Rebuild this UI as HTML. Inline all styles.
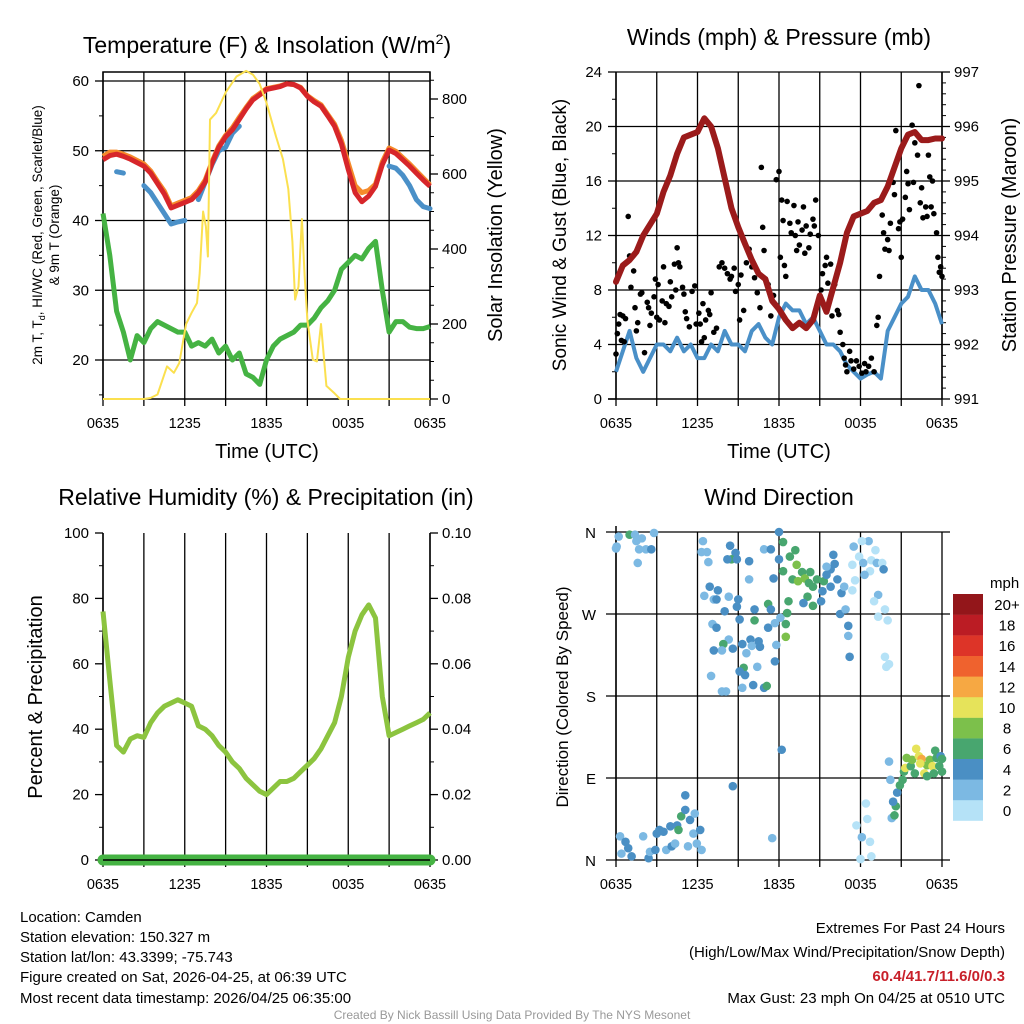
<!DOCTYPE html>
<html><head><meta charset="utf-8">
<style>
html,body{margin:0;padding:0;background:#fff;}
svg{display:block;font-family:"Liberation Sans",sans-serif;}
</style></head>
<body>
<svg id="fig" width="1024" height="1024" viewBox="0 0 1024 1024" xmlns="http://www.w3.org/2000/svg">
<rect width="1024" height="1024" fill="#fff"/>
<text x="267" y="53" font-size="23" text-anchor="middle">Temperature (F) &amp; Insolation (W/m<tspan font-size="14" dy="-9">2</tspan><tspan dy="9">)</tspan></text>
<text x="779" y="45" font-size="23" text-anchor="middle">Winds (mph) &amp; Pressure (mb)</text>
<text x="266" y="505" font-size="23" text-anchor="middle">Relative Humidity (%) &amp; Precipitation (in)</text>
<text x="779" y="505" font-size="23" text-anchor="middle">Wind Direction</text>
<text transform="translate(42,235) rotate(-90)" font-size="13.5" text-anchor="middle">2m T, T<tspan font-size="9" dy="3">d</tspan><tspan dy="-3">, HI/WC (Red, Green, Scarlet/Blue)</tspan></text>
<text transform="translate(59,235) rotate(-90)" font-size="13.5" text-anchor="middle">&amp; 9m T (Orange)</text>
<text transform="translate(502,235) rotate(-90)" font-size="20" text-anchor="middle">Solar Insolation (Yellow)</text>
<text x="267" y="458" font-size="20" text-anchor="middle">Time (UTC)</text>
<text transform="translate(566,235) rotate(-90)" font-size="19" text-anchor="middle">Sonic Wind &amp; Gust (Blue, Black)</text>
<text transform="translate(1016,235) rotate(-90)" font-size="20" text-anchor="middle">Station Pressure (Maroon)</text>
<text x="779" y="458" font-size="20" text-anchor="middle">Time (UTC)</text>
<text transform="translate(42,697) rotate(-90)" font-size="20" text-anchor="middle">Percent &amp; Precipitation</text>
<text transform="translate(568,697) rotate(-90)" font-size="17" text-anchor="middle">Direction (Colored By Speed)</text>
<g font-size="15">
<text x="20" y="922">Location: Camden</text>
<text x="20" y="942">Station elevation: 150.327 m</text>
<text x="20" y="962">Station lat/lon: 43.3399; -75.743</text>
<text x="20" y="982">Figure created on Sat, 2026-04-25, at 06:39 UTC</text>
<text x="20" y="1003">Most recent data timestamp: 2026/04/25 06:35:00</text>
</g>
<g font-size="15" text-anchor="end">
<text x="1005" y="933">Extremes For Past 24 Hours</text>
<text x="1005" y="957">(High/Low/Max Wind/Precipitation/Snow Depth)</text>
<text x="1005" y="981" fill="#c8202a" font-weight="bold">60.4/41.7/11.6/0/0.3</text>
<text x="1005" y="1003">Max Gust: 23 mph On 04/25 at 0510 UTC</text>
</g>
<text x="512" y="1019" font-size="12" fill="#999" text-anchor="middle">Created By Nick Bassill Using Data Provided By The NYS Mesonet</text>
<g id="g"></g>
</svg>
<script>
const timeLabels = ["0635","1235","1835","0035","0635"];
const halfHours = [0,0.5,1,1.5,2,2.5,3,3.5,4,4.5,5,5.5,6,6.5,7,7.5,8,8.5,9,9.5,10,10.5,11,11.5,12,12.5,13,13.5,14,14.5,15,15.5,16,16.5,17,17.5,18,18.5,19,19.5,20,20.5,21,21.5,22,22.5,23,23.5,24];
const tempRed = [48.7,49.3,49.5,49.2,48.8,48.3,47.8,46.8,45.3,43.8,41.8,42.2,42.6,43,44,45.5,48.2,50.5,52,53,54.5,56,57.3,58,58.8,59,59.2,59.6,59.5,59,57.8,57,56.4,55,53.5,51,47.3,44,42.7,43.5,44.9,48,50.1,49.6,48.7,47.8,46.8,45.8,44.9];
const temp9m = [49.2,49.8,49.8,49.5,49.1,48.6,48.1,47.1,45.6,44.2,42.1,42.5,42.9,43.3,44.3,45.8,48.4,50.7,52.2,53.3,54.8,56.2,57.5,58.2,58.9,59.1,59.3,59.6,59.5,59.1,57.9,57.2,56.6,55.2,53.8,51.5,48.2,45,44,44.3,45.2,48.4,50.4,49.9,49,48.1,47.1,46.1,45.1];
const tempBlue = [null,null,47,46.8,null,null,45,44,42.5,41,39.5,39.8,40,null,43,45.5,48,50,50.5,52.5,53.5,null,null,null,null,null,null,58,null,null,null,null,null,null,null,null,null,null,null,null,null,null,47.8,47.5,46.5,45,43,42,41.7];
const dewGreen = [41,35,27,24,20,23.5,22.5,24.5,25.5,25,24.5,24,24,22,22.5,22,23,21,22,20,21,18,17.5,16.5,20,22,23,23.5,24,25,25,26,27.5,28.5,30,33,34,35,34.5,36,37,30,24,25.5,25.5,24.7,24.5,24.5,24.8];
const solarTimes = [0,3,3.5,4,4.7,5.2,5.6,6.1,6.5,6.9,7.1,7.35,7.55,7.7,7.85,8.3,9,9.8,10.5,11,11.5,12,12.7,13.2,13.6,13.9,14.1,14.35,14.6,14.8,15,15.4,15.7,16,16.4,17,17.4,24];
const solarValues = [0,0,3,12,87,70,96,200,230,256,336,500,460,380,745,763,817,860,875,865,840,790,700,640,560,420,265,300,480,330,210,105,100,200,35,15,0,0];
const windSpeed = [2,3.5,5,3,2,3,4,4,3.5,4.5,3.5,4,3,3,4,3.5,5,4,4,3.5,5,5.5,4.5,4,6,7,6.5,6.5,5.5,6,5,4,4,3.5,2.5,2,1.5,1.8,2,1.5,5,6,7,7.5,9,8,8,7,5.5];
const pressure = [993.15,993.45,993.55,993.7,994,994.2,994.4,994.8,995.1,995.5,995.8,995.85,995.9,996.15,996,995.6,995.05,994.5,994.15,993.85,993.55,993.3,993.2,992.8,992.65,992.45,992.3,992.4,992.3,992.45,992.9,992.6,993.05,993.5,994.05,994.35,994.4,994.45,994.6,994.65,994.9,995.25,995.6,995.85,995.9,995.75,995.75,995.78,995.78];
const gustTimes = [0,0.1,0.2,0.3,0.4,0.5,0.6,0.7,0.9,1.0,1.1,1.3,1.4,1.5,1.6,1.8,1.9,2.1,2.3,2.4,2.5,2.6,2.8,2.9,3.0,3.1,3.2,3.4,3.5,3.6,3.7,3.9,4.0,4.1,4.3,4.4,4.5,4.6,4.7,4.9,5.0,5.1,5.2,5.4,5.6,5.8,5.9,6.1,6.2,6.3,6.4,6.5,6.6,6.8,6.9,7.0,7.2,7.4,7.6,7.8,8.0,8.2,8.4,8.5,8.7,8.8,9.0,9.1,9.2,9.4,9.6,9.8,10.0,10.2,10.4,10.6,10.7,10.8,10.9,11.0,11.2,11.4,11.6,11.8,12.0,12.1,12.2,12.3,12.4,12.5,12.6,12.8,12.9,13.1,13.2,13.3,13.4,13.5,13.7,13.8,13.9,14.0,14.2,14.3,14.5,14.6,14.7,14.9,15.1,15.2,15.4,15.5,15.6,15.8,15.9,16.1,16.3,16.4,16.5,16.7,16.8,16.9,17.0,17.2,17.3,17.5,17.7,17.9,18.1,18.3,18.4,18.6,18.8,19.0,19.2,19.3,19.4,19.6,19.7,19.8,20.0,20.1,20.2,20.4,20.5,20.6,20.8,20.9,21.0,21.1,21.3,21.4,21.5,21.6,21.8,21.9,22.0,22.2,22.3,22.4,22.5,22.6,22.8,22.9,23.0,23.1,23.2,23.3,23.4,23.6,23.7,23.8,23.9,24.0];
const gustValues = [3.3,4.8,5.5,6.2,4.3,6.1,4.2,5.9,13.4,10.5,8.2,9.4,6.7,5.0,5.6,7.7,7.8,3.4,7.1,6.7,5.4,6.3,7.5,8.8,6.0,8.4,5.8,7.2,9.7,5.6,7.0,6.8,8.6,7.5,9.9,8.0,11.1,10.0,9.7,8.2,7.7,6.4,5.9,5.3,7.9,8.3,5.5,6.3,5.5,4.2,7.0,4.5,5.8,6.5,6.2,7.8,4.9,5.2,9.7,10.0,9.6,9.2,8.8,9.0,9.6,7.9,8.4,5.8,9.1,6.5,10.0,11.0,9.7,8.9,7.8,6.7,17.0,12.6,10.9,8.8,8.4,6.1,7.6,16.1,16.7,10.4,14.6,13.1,9.8,9.0,14.5,12.9,12.2,14.2,12.0,10.9,13.0,11.3,12.4,14.1,10.7,12.7,11.1,12.1,13.2,12.7,14.6,12.0,8.0,9.2,9.8,10.4,8.5,9.9,6.1,8.4,6.5,6.2,4.9,4.0,3.0,2.5,2.0,3.5,2.8,2.2,2.8,2.4,1.9,2.6,2.0,2.4,3.0,2.0,5.4,6.0,9.0,13.5,12.2,11.0,11.7,10.9,12.9,15.9,15.0,19.7,12.5,13.0,10.4,13.2,14.8,16.7,15.8,13.9,20.1,15.9,18.8,17.9,23.0,14.4,15.5,13.3,14.1,13.4,17.9,16.3,14.1,16.0,13.6,12.2,10.4,9.3,9.7,9.0];
const rhValues = [76,55,35,33,37,38,37.5,42,45,47,48,49,48,47,41,40,38,35,33,30,28,25,23,21,20,22,24,24,25,27,29,31,34,38,42,50,62,70,75,78,74,50,38,39,40,41,42,43,45];
const precipTotal = [0,0];
const precipTimes = [0,24];
const dirLabels = ["N","E","S","W","N"];
const legendLabels = ["0","2","4","6","8","10","12","14","16","18","20+"];
const dirObs = [
[0,342,3],[0.2,355,3],[1.0,357,7],[1.4,357,3],[1.7,341,3],[1.5,350,3],[1.9,353,3],[2.2,341,3],[2.6,341,5],[2.8,359,3],[1.6,326,3],[0.05,344,3],
[0.3,26,3],[0.7,20,5],[0.9,13,5],[1.15,4,5],[0.4,7,3],[2.0,26,3],[2.4,2,5],[2.5,9,3],[2.9,11,5],[3.0,29,5],[3.2,33,5],[3.5,31,5],[3.7,11,3],[4.0,37,5],[4.1,15,5],[4.5,38,5],[4.6,33,7],[4.8,48,7],[5.1,55,5],[5.1,71,5],[5.45,44,5],[5.7,29,3],[5.8,51,3],[5.95,18,3],[6.2,33,5],[6.3,11,3],[5.3,15,3],[4.35,18,3],
[6.4,350,3],[6.3,338,3],[6.7,338,3],[6.8,327,3],[6.9,300,5],[6.5,290,3],[7.2,286,3],[7.4,286,5],[7.5,296,5],[8.0,273,5],[7.1,259,3],[7.4,255,5],[8.3,242,3],[7.9,237,7],[7.8,230,3],[7.2,230,5],[7.0,202,3],[7.8,185,3],[8.1,185,3],[8.4,345,5],[8.8,337,5],[8.5,330,7],[8.9,330,5],[8.2,330,5],[8.3,289,3],[9.0,286,5],[8.9,278,5],[9.1,264,5],[9.3,237,5],[8.6,232,5],[9.6,227,3],[9.9,242,5],[10.0,235,3],[10.5,240,5],[10.6,234,5],[10.4,212,3],[9.4,211,7],[9.1,207,5],[9.5,203,5],[9.3,189,3],[10.1,192,5],[10.9,189,5],[11.1,191,7],[10.2,263,7],[10.2,275,5],[9.8,328,5],[9.8,308,3],[10.9,341,3],[11.4,341,5],[12.0,360,5],[12.0,330,5],[12.3,349,7],[11.6,309,5],[11.2,281,7],[11.4,275,5],[11.2,255,5],[11.7,260,3],[12.1,266,3],[12.5,259,7],[12.5,245,9],[12.6,271,7],[12.7,284,7],[11.7,218,5],[11.8,236,3],[12.3,317,7],[12.8,333,7],[13.2,340,7],[13.3,324,9],[13.0,308,7],[13.4,306,9],[13.7,316,7],[13.9,309,9],[14.2,304,7],[14.3,316,7],[14.5,300,7],[14.8,308,7],[14.1,289,7],[13.8,282,5],[14.5,279,7],[15.1,284,5],[15.2,295,5],[15.3,306,7],[15.5,313,5],[15.8,319,5],[16.0,335,5],[16.1,325,5],[16.3,308,5],[15.8,300,5],[16.6,293,5],[16.8,300,3],[16.5,270,5],[16.9,275,3],[17.1,257,5],[17.1,246,3],[17.2,223,5],[15.5,322,3],[12.2,121,5],[8.6,81,5],[11.5,24,3],
[17.5,344,3],[17.9,333,1],[17.4,324,1],[18.2,326,3],[18.6,350,3],[18.1,350,1],[19.1,340,1],[18.8,329,1],[19.2,326,3],[19.6,326,1],[19.7,319,5],[18.7,317,1],[18.3,313,3],[17.6,307,1],[17.4,296,1],[19.3,291,3],[19.0,284,1],[19.3,267,1],[19.8,275,1],[20.0,263,1],[19.8,223,1],[20.1,215,1],[19.9,212,1],
[18.4,62,1],[17.7,38,1],[18.5,45,1],[18.1,25,3],[18.7,20,1],[18.0,1,1],[18.8,4,1],
[20.1,108,3],[20.2,88,3],[20.3,46,3],[20.5,49,7],[20.6,59,7],[20.4,64,5],[20.7,74,5],[20.9,82,7],[21.1,88,7],[21.2,97,7],[21.3,101,11],[21.4,112,9],[21.7,103,7],[21.8,110,9],[22.0,95,7],[22.1,122,11],[22.3,114,11],[22.5,111,13],[22.7,95,11],[22.9,104,9],[22.9,92,7],[23.1,110,9],[23.3,103,11],[23.4,95,7],[23.5,120,7],[23.6,112,7],[23.8,103,7],[23.9,114,5],[24.0,111,7],[24.0,97,7],[22.4,106,11]
];
const NS="http://www.w3.org/2000/svg";
const root=document.getElementById('g');
const speedColors=["#b5e2f7","#7cb9e3","#4a8fc4","#48a66f","#7cc04b","#e6e35a","#f6a843","#ef622e","#dd3428","#bb1c24","#93161a"];
function mk(tag,attrs,parent){const e=document.createElementNS(NS,tag);for(const k in attrs)e.setAttribute(k,attrs[k]);(parent||root).appendChild(e);return e;}
function txt(s,x,y,size,anchor){const e=mk('text',{x:x,y:y,'font-size':size,'text-anchor':anchor||'middle'});e.textContent=s;return e;}
function pathFrom(xs,ys,fx,fy){let d='',pen=false;for(let i=0;i<xs.length;i++){if(ys[i]==null){pen=false;continue;}d+=(pen?'L':'M')+fx(xs[i]).toFixed(1)+','+fy(ys[i]).toFixed(1);pen=true;}return d;}
function line(x1,y1,x2,y2,w,c){return mk('line',{x1:x1,y1:y1,x2:x2,y2:y2,stroke:c||'#000','stroke-width':w||1});}

function panelFrame(x0,x1,y0,y1,hgrid,name,frame){
  const fx=h=>x0+h*(x1-x0)/24;
  for(let h=0;h<=24;h+=3){const l=line(fx(h),y0,fx(h),y1,1.3,'#000');
    
    
    const t=line(fx(h),y1,fx(h),y1+7,1.3);
    
    
  }
  for(let i=0;i<timeLabels.length;i++){const t=txt(timeLabels[i],fx(i*6),y1+29,14.5);
    
    }
  hgrid.forEach(y=>{const l=line(x0,y,x1,y,1.3,'#000');
    
    });
  if(frame){const r=mk('rect',{x:x0,y:y0,width:x1-x0,height:y1-y0,fill:'none',stroke:'#000','stroke-width':1.5});
    
    }
  return fx;
}
function yAxis(x,side,vals,fy,labels,minor,name){
  const dir=side==='left'?-1:1;
  vals.forEach((v,i)=>{const t=line(x,fy(v),x+dir*8,fy(v),1.3);
    
    
    const l=txt(labels[i],x+dir*(side==='left'?14:12),fy(v)+5,15,side==='left'?'end':'start');
    
    });
  minor.forEach(v=>{const t=line(x,fy(v),x+dir*4,fy(v),1);
    
    });
}

(function(){
  const x0=103,x1=430,y0=72,y1=399;
  const yT=t=>360-(t-20)*6.975, yS=w=>399-w*0.375;
  const fx=panelFrame(x0,x1,y0,y1,[20,30,40,50,60].map(yT),'temp',true);
  yAxis(x0,'left',[20,30,40,50,60],yT,["20","30","40","50","60"],[15,25,35,45,55],'temp-y');
  yAxis(x1,'right',[0,200,400,600,800],yS,["0","200","400","600","800"],[50,100,150,250,300,350,450,500,550,650,700,750,850],'solar-y');
  let p=mk('path',{d:pathFrom(halfHours,tempBlue,fx,yT),fill:'none',stroke:'#4a90c8','stroke-width':5,'stroke-linejoin':'round','stroke-linecap':'round'});
  
  
  p=mk('path',{d:pathFrom(halfHours,temp9m,fx,yT),fill:'none',stroke:'#f58a2a','stroke-width':5,'stroke-linejoin':'round'});
  
  
  p=mk('path',{d:pathFrom(halfHours,tempRed,fx,yT),fill:'none',stroke:'#d7262a','stroke-width':5,'stroke-linejoin':'round'});
  
  
  p=mk('path',{d:pathFrom(halfHours,dewGreen,fx,yT),fill:'none',stroke:'#45b343','stroke-width':5,'stroke-linejoin':'round'});
  
  
  p=mk('path',{d:pathFrom(solarTimes,solarValues,fx,yS),fill:'none',stroke:'#fbe04f','stroke-width':2,'stroke-linejoin':'round'});
  
  
})();

(function(){
  const x0=616,x1=942,y0=72,y1=399;
  const yW=m=>399-m*13.625, yP=p=>399-(p-991)*54.5;
  const fx=panelFrame(x0,x1,y0,y1,[4,8,12,16,20,24].map(yW),'wind',false);
  let ax=line(x0,y0,x0,y1,1.5);  
  ax=line(x1,y0,x1,y1,1.5);  
  ax=line(x0-8,y1,x1,y1,1.5);  
  yAxis(x0,'left',[0,4,8,12,16,20,24],yW,["0","4","8","12","16","20","24"],[2,6,10,14,18,22],'wind-y');
  yAxis(x1,'right',[991,992,993,994,995,996,997],yP,["991","992","993","994","995","996","997"],[991.2,991.4,991.6,991.8,992.2,992.4,992.6,992.8,993.2,993.4,993.6,993.8,994.2,994.4,994.6,994.8,995.2,995.4,995.6,995.8,996.2,996.4,996.6,996.8],'pressure-y');
  let p=mk('path',{d:pathFrom(halfHours,windSpeed,fx,yW),fill:'none',stroke:'#4a90c8','stroke-width':4,'stroke-linejoin':'round'});
  
  
  for(let i=0;i<gustTimes.length;i++){const c=mk('circle',{cx:fx(gustTimes[i]),cy:yW(gustValues[i]),r:2.8,fill:'#000'});
    
    }
  p=mk('path',{d:pathFrom(halfHours,pressure,fx,yP),fill:'none',stroke:'#9b1b1b','stroke-width':6,'stroke-linejoin':'round','stroke-linecap':'round'});
  
  
})();

(function(){
  const x0=103,x1=430,y0=533,y1=860;
  const yR=r=>860-r*3.27, yPr=v=>860-v*3270;
  const fx=panelFrame(x0,x1,y0,y1,[],'rh',false);
  let ax=line(x0,y0,x0,y1,1.5);  
  ax=line(x1,y0,x1,y1,1.5);  
  yAxis(x0,'left',[0,20,40,60,80,100],yR,["0","20","40","60","80","100"],[10,30,50,70,90],'rh-y');
  yAxis(x1,'right',[0,0.02,0.04,0.06,0.08,0.1],yPr,["0.00","0.02","0.04","0.06","0.08","0.10"],[0.01,0.03,0.05,0.07,0.09],'precip-y');
  let p=mk('path',{d:pathFrom(halfHours,rhValues,fx,yR),fill:'none',stroke:'#8cc43f','stroke-width':5,'stroke-linejoin':'round'});
  
  
  p=mk('path',{d:pathFrom(precipTimes,precipTotal,fx,yPr),fill:'none',stroke:'#45b343','stroke-width':11,'stroke-linecap':'round'});
  
  
  ax=line(x0,y1,x1,y1,1.5);  
})();

(function(){
  const x0=616,x1=942,y0=532,y1=860;
  const yD=d=>860-d*0.9111;
  const fx=panelFrame(x0,x1,y0,y1,[],'dir',false);
  [0,90,180,270,360].forEach((d,i)=>{const l=line(x0-10,yD(d),x1+8,yD(d),1.3);
    
    
    const t=txt(dirLabels[i],x0-20,yD(d)+6,15,'end');
    
    });
  let ax=line(x0,y0-6,x0,y1,1.5);  
  dirObs.forEach(o=>{const bin=Math.min(10,Math.floor(o[2]/2));
    const c=mk('circle',{cx:fx(o[0]),cy:yD(o[1]),r:4.3,fill:speedColors[bin]});
    
    });
  const lt=txt('mph',990,588,15,'start');  
  for(let i=0;i<11;i++){const yy=594+(10-i)*20.6;
    const r=mk('rect',{x:953,y:yy,width:30,height:20.8,fill:speedColors[i]});
    
    
    const t=txt(legendLabels[i],1007,yy+16,15,'middle');
    
    }
})();
</script>
</body></html>
